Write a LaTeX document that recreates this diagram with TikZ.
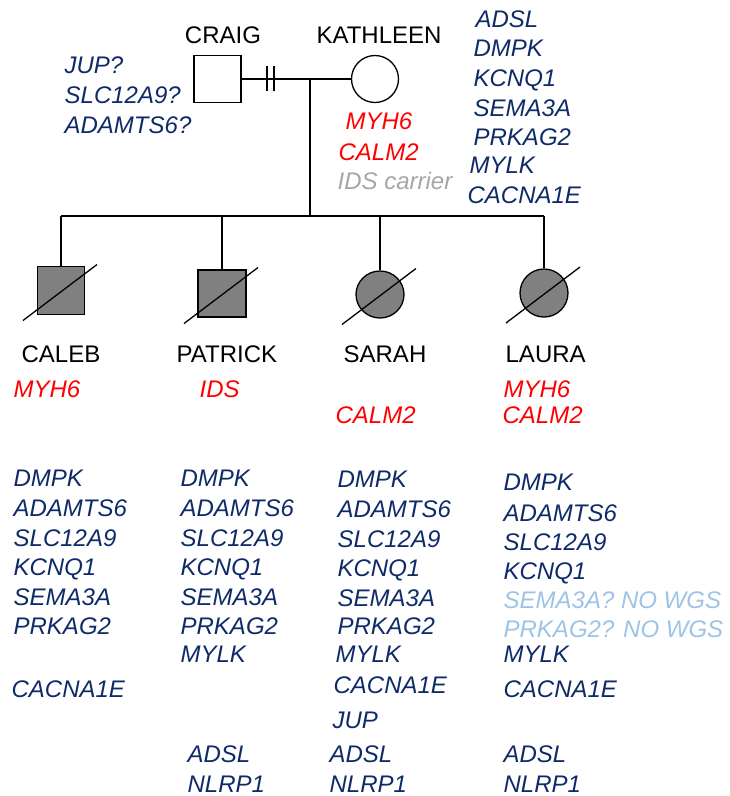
\documentclass[tikz,border=0pt]{standalone}
\usepackage{fontspec}
\setmainfont{Liberation Sans}
\usetikzlibrary{calc,shapes.geometric}
\definecolor{navy}{RGB}{14,42,104}
\definecolor{hitred}{RGB}{255,0,0}
\definecolor{carriergray}{RGB}{166,166,166}
\definecolor{nowgs}{RGB}{157,195,230}
\definecolor{affected}{RGB}{128,128,128}
\begin{document}
\begin{tikzpicture}[x=1pt,y=-1pt,line width=1.3pt,
  lbl/.style={anchor=base west,inner sep=0pt,font=\fontsize{24}{28}\selectfont},
  gene/.style={lbl,font=\fontsize{24}{28}\selectfont\itshape,text=navy},
  hit/.style={gene,text=hitred},
  carrier/.style={gene,text=carriergray},
  nowgs/.style={gene,text=nowgs},
  male/.style={draw,rectangle,inner sep=0pt,minimum width=47pt,minimum height=47pt},
  female/.style={draw,circle,inner sep=0pt,minimum size=47pt},
  dead/.style={draw,ellipse,inner sep=0pt,minimum width=48pt,minimum height=47pt,fill=affected},
  deadmale/.style={male,fill=affected},
]
\useasboundingbox (0,0) rectangle (730,796);

% parents
\node[male,fill=white] (craig) at (217.5,79) {};
\node[female] (kath) at (375,79) {};
\node[lbl,anchor=base] (craigname) at (223,43) {CRAIG};
\node[lbl,anchor=base] (kathname) at (379,43) {KATHLEEN};

% partnership line with separation marks
\draw (craig.east) -- (kath.west);
\coordinate (sepA) at (267,79);
\coordinate (sepB) at (274,79);
\draw ($(sepA)+(0,-13)$) -- ($(sepA)+(0,12)$);
\draw ($(sepB)+(0,-13)$) -- ($(sepB)+(0,12)$);

% descent and sibship line
\coordinate (mid) at (310,79);
\coordinate (sib) at (310,216);
\draw (mid) -- (sib);
\coordinate (sibL) at (61,216);
\coordinate (sibR) at (544,216);
\draw (sibL) -- (sibR);

% children
\node[deadmale,minimum height=48pt] (caleb) at (61,290.5) {};
\node[deadmale,minimum width=48pt] (patrick) at (222,293.5) {};
\node[dead] (sarah) at (380,294.5) {};
\node[dead,minimum height=48pt] (laura) at (544,293) {};
\foreach \c in {caleb,patrick,sarah,laura}{
  \draw (\c.north |- sibL) -- (\c.north);
  \draw ($(\c.center)+(-38,30)$) -- ($(\c.center)+(36,-26)$);
}

\node[lbl] (calebname) at (21,362) {CALEB};
\node[lbl] (patrickname) at (176,362) {PATRICK};
\node[lbl] (sarahname) at (343,362) {SARAH};
\node[lbl] (lauraname) at (505,362) {LAURA};

% Craig's candidate variants
\node[gene] (cr1) at (64,73) {JUP?};
\node[gene] (cr2) at (64,103) {SLC12A9?};
\node[gene] (cr3) at (64,133) {ADAMTS6?};

% Kathleen's variants
\node[hit] (k1) at (345,129) {MYH6};
\node[hit] (k2) at (338,160) {CALM2};
\node[carrier] (k3) at (337,189) {IDS carrier};
\node[gene] (k4) at (475,27) {ADSL};
\node[gene] (k5) at (473,56) {DMPK};
\node[gene] (k6) at (473,86) {KCNQ1};
\node[gene] (k7) at (473,116) {SEMA3A};
\node[gene] (k8) at (473,145) {PRKAG2};
\node[gene] (k9) at (469,173) {MYLK};
\node[gene] (k10) at (467,203) {CACNA1E};

% Caleb
\node[hit] (ca0) at (13,397) {MYH6};
\node[gene] (ca1) at (13,486) {DMPK};
\node[gene] (ca2) at (13,516) {ADAMTS6};
\node[gene] (ca3) at (13,546) {SLC12A9};
\node[gene] (ca4) at (13,575) {KCNQ1};
\node[gene] (ca5) at (13,605) {SEMA3A};
\node[gene] (ca6) at (13,634) {PRKAG2};
\node[gene] (ca7) at (11,697) {CACNA1E};

% Patrick
\node[hit] (pa0) at (199,397) {IDS};
\node[gene] (pa1) at (180,486) {DMPK};
\node[gene] (pa2) at (180,516) {ADAMTS6};
\node[gene] (pa3) at (180,546) {SLC12A9};
\node[gene] (pa4) at (180,575) {KCNQ1};
\node[gene] (pa5) at (180,605) {SEMA3A};
\node[gene] (pa6) at (180,634) {PRKAG2};
\node[gene] (pa7) at (180,662) {MYLK};
\node[gene] (pa8) at (187,762) {ADSL};
\node[gene] (pa9) at (187,792) {NLRP1};

% Sarah
\node[hit] (sa0) at (335,423) {CALM2};
\node[gene] (sa1) at (337,487) {DMPK};
\node[gene] (sa2) at (337,517) {ADAMTS6};
\node[gene] (sa3) at (337,547) {SLC12A9};
\node[gene] (sa4) at (337,576) {KCNQ1};
\node[gene] (sa5) at (337,606) {SEMA3A};
\node[gene] (sa6) at (337,634) {PRKAG2};
\node[gene] (sa7) at (335,662) {MYLK};
\node[gene] (sa8) at (333,693) {CACNA1E};
\node[gene] (sa9) at (332,728) {JUP};
\node[gene] (sa10) at (329,762) {ADSL};
\node[gene] (sa11) at (329,792) {NLRP1};

% Laura
\node[hit] (la0) at (503,397) {MYH6};
\node[hit] (la00) at (502,423) {CALM2};
\node[gene] (la1) at (503,490) {DMPK};
\node[gene] (la2) at (503,521) {ADAMTS6};
\node[gene] (la3) at (503,550) {SLC12A9};
\node[gene] (la4) at (503,579) {KCNQ1};
\node[nowgs] (la5) at (503,608) {SEMA3A? NO WGS};
\node[nowgs] (la6) at (503,637) {PRKAG2? NO WGS};
\node[gene] (la7) at (503,662) {MYLK};
\node[gene] (la8) at (503,697) {CACNA1E};
\node[gene] (la9) at (503,762) {ADSL};
\node[gene] (la10) at (503,792) {NLRP1};
\end{tikzpicture}
\end{document}
